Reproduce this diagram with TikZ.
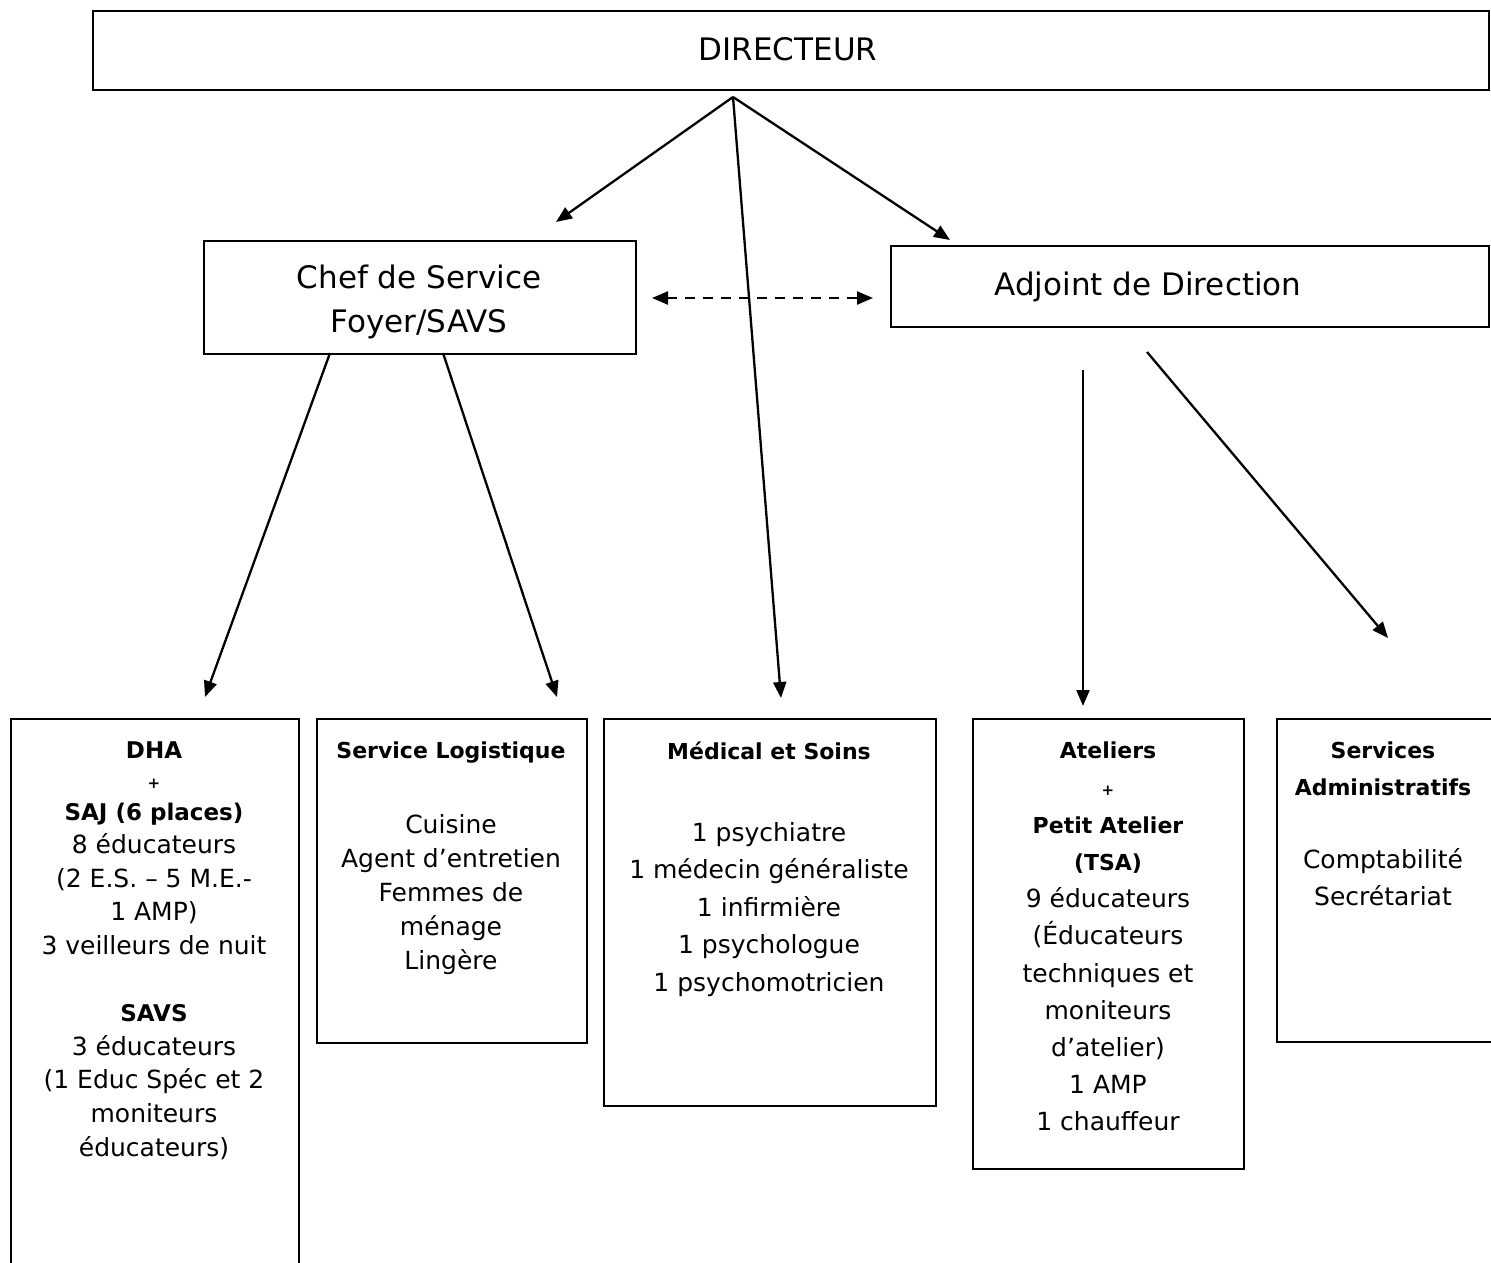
\documentclass[tikz,border=0pt]{standalone}
\usepackage{fontspec}
\setmainfont{DejaVu Sans}
\usetikzlibrary{arrows.meta}
\begin{document}
\begin{tikzpicture}[x=1pt,y=-1pt,
  boxstyle/.style={draw,line width=2.3pt,rectangle,inner sep=0pt,anchor=north west},
  txt/.style={anchor=north,align=center,inner sep=0pt},
  conn/.style={line width=2.3pt,-{Triangle[length=16pt,width=13pt]}}
]
\clip (0,0) rectangle (1491,1263);
\fill[white] (0,0) rectangle (1491,1263);
% top boxes
\node[boxstyle,minimum width=1396pt,minimum height=79pt] (dir) at (92,10) {};
\node[font=\fontsize{31}{30}\selectfont] (dirt) at (788,49) {DIRECTEUR};
\node[boxstyle,minimum width=432pt,minimum height=113pt] (chef) at (203,240) {};
\node[txt,font=\fontsize{31}{44}\selectfont] (cheft) at (419,265) {Chef de Service\\Foyer/SAVS};
\node[boxstyle,minimum width=598pt,minimum height=81pt] (adj) at (890,245) {};
\node[font=\fontsize{31}{36}\selectfont] (adjt) at (1148,287) {Adjoint de Direction};
% bottom boxes
\node[boxstyle,minimum width=288pt,minimum height=570pt] (dha) at (10,718) {};
\node[boxstyle,minimum width=270pt,minimum height=324pt] (log) at (316,718) {};
\node[boxstyle,minimum width=332pt,minimum height=387pt] (med) at (603,718) {};
\node[boxstyle,minimum width=271pt,minimum height=450pt] (ate) at (972,718) {};
\node[boxstyle,minimum width=240pt,minimum height=323pt] (adm) at (1276,718) {};
% texts
\node[txt,font=\fontsize{25}{33.6}\selectfont] (dhat) at (154,742) {%
  {\fontsize{23}{30}\selectfont\bfseries DHA}\\[-4pt]
  {\fontsize{15}{30}\selectfont\bfseries +}\\[-2pt]
  {\fontsize{23}{30}\selectfont\bfseries SAJ (6 places)}\\
  8 éducateurs\\
  (2 E.S. – 5 M.E.-\\
  1 AMP)\\
  3 veilleurs de nuit\\[33.6pt]
  {\fontsize{23}{30}\selectfont\bfseries SAVS}\\
  3 éducateurs\\
  (1 Educ Spéc et 2\\
  moniteurs\\
  éducateurs)};
\node[txt,font=\fontsize{25}{34.2}\selectfont] (logt) at (451,742) {%
  {\fontsize{22}{30}\selectfont\bfseries Service Logistique}\\[40pt]
  Cuisine\\
  Agent d’entretien\\
  Femmes de\\
  ménage\\
  Lingère};
\node[txt,font=\fontsize{25}{37.5}\selectfont] (medt) at (769,742) {%
  {\fontsize{22}{30}\selectfont\bfseries Médical et Soins}\\[44pt]
  1 psychiatre\\
  1 médecin généraliste\\
  1 infirmière\\
  1 psychologue\\
  1 psychomotricien};
\node[txt,font=\fontsize{25}{37.2}\selectfont] (atet) at (1108,742) {%
  {\fontsize{22}{30}\selectfont\bfseries Ateliers}\\[-1pt]
  {\fontsize{15}{30}\selectfont\bfseries +}\\[1pt]
  {\fontsize{22}{30}\selectfont\bfseries Petit Atelier}\\
  {\fontsize{22}{30}\selectfont\bfseries (TSA)}\\
  9 éducateurs\\
  (Éducateurs\\
  techniques et\\
  moniteurs\\
  d’atelier)\\
  1 AMP\\
  1 chauffeur};
\node[txt,font=\fontsize{25}{37}\selectfont] (admt) at (1383,742) {%
  {\fontsize{22}{37}\selectfont\bfseries Services}\\
  {\fontsize{22}{37}\selectfont\bfseries Administratifs}\\[36pt]
  Comptabilité\\
  Secrétariat};
% coordinates
\coordinate (apex) at (733,97);
\coordinate (tchef) at (556,222);
\coordinate (tadj) at (950,240);
\coordinate (tmed) at (781,698);
\coordinate (c1) at (330,353);
\coordinate (c2) at (443,353);
\coordinate (tdha) at (205,697);
\coordinate (tlog) at (557,697);
\coordinate (a1) at (1083,370);
\coordinate (a2) at (1147,352);
\coordinate (tate) at (1083,706);
\coordinate (tadm) at (1388,638);
\coordinate (dl) at (652,298);
\coordinate (dr) at (873,298);
% connectors
\draw[conn] (apex) -- (tchef);
\draw[conn] (apex) -- (tadj);
\draw[conn] (apex) -- (tmed);
\draw[conn] (c1) -- (tdha);
\draw[conn] (c2) -- (tlog);
\draw[conn] (a1) -- (tate);
\draw[conn] (a2) -- (tadm);
\draw[line width=2.3pt,dash pattern=on 10pt off 8pt,{Triangle[length=16pt,width=13pt]}-{Triangle[length=16pt,width=13pt]}] (dl) -- (dr);
\end{tikzpicture}
\end{document}
